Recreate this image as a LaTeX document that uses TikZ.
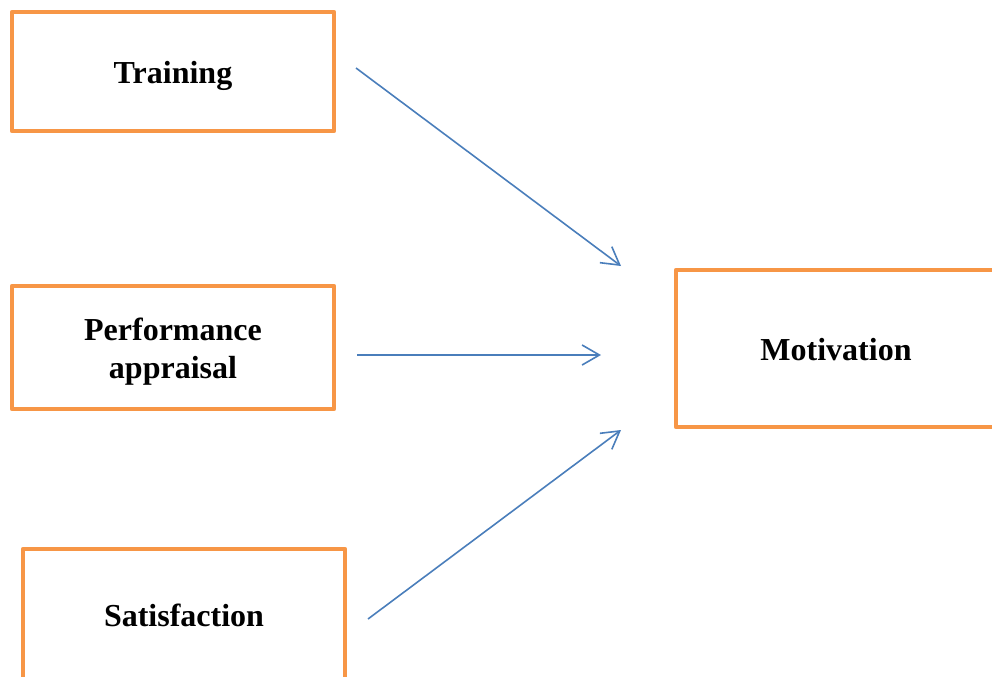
\documentclass[tikz,border=0pt]{standalone}
\usepackage{fontspec}
\setmainfont{Liberation Serif}
\usetikzlibrary{arrows.meta}
\definecolor{boxorange}{HTML}{F79646}
\definecolor{arrowblue}{HTML}{4A7EBB}
\begin{document}
\begin{tikzpicture}[x=0.75pt,y=-0.75pt,
  box/.style={draw=boxorange, line width=3.6pt, line join=round, rectangle, inner sep=0pt, align=center,
    font=\fontsize{24}{28.5}\selectfont\bfseries},
  link/.style={draw=arrowblue, line width=1.2pt, -{Straight Barb[length=13pt,width=15pt]}}]
\useasboundingbox (0,0) rectangle (992,676);
\clip (0,0) rectangle (992,676);
\node[box, minimum width=241.5pt, minimum height=89.25pt] (training) at (173,71.5) {\raisebox{-3.5pt}[\height][\depth]{Training}};
\node[box, minimum width=241.5pt, minimum height=92.25pt] (perf) at (173,347.5) {\raisebox{-3.5pt}[\height][\depth]{\begin{tabular}{@{}c@{}}Performance\\[-0.3pt]appraisal\end{tabular}}};
\node[box, minimum width=241.5pt, minimum height=99pt] (satis) at (184,615) {Satisfaction};
\node[box, minimum width=240pt, minimum height=117.75pt] (motiv) at (836,348.5) {\raisebox{-0.75pt}[\height][\depth]{Motivation}};
\coordinate (t1) at (356,68);
\coordinate (t2) at (621,266);
\coordinate (p1) at (357,355);
\coordinate (p2) at (601,355);
\coordinate (s1) at (368,619);
\coordinate (s2) at (621,430);
\draw[link] (t1) -- (t2);
\draw[link] (p1) -- (p2);
\draw[link] (s1) -- (s2);
\end{tikzpicture}
\end{document}
